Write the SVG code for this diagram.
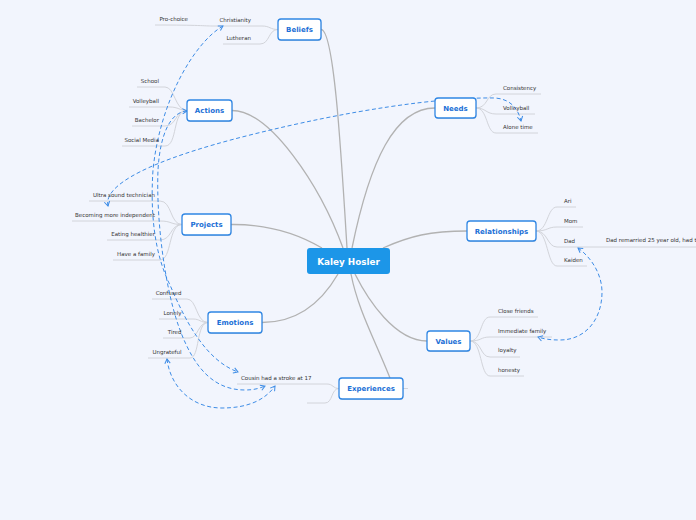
<svg xmlns="http://www.w3.org/2000/svg" width="696" height="520" viewBox="0 0 696 520">
<style>
.bg{fill:#f2f5fd}
.node rect.box{fill:#ffffff;stroke:#2f86e4;stroke-width:1.3}
.node rect.sh{fill:#000;opacity:0.13}
.node text{font-family:"DejaVu Sans",Verdana,sans-serif;font-weight:bold;font-size:7px;fill:#1b6fd6;text-anchor:middle}
#central rect{fill:#1c96e8}
#central text{fill:#ffffff;font-size:8.8px}
.leaf text{font-family:"DejaVu Sans",Verdana,sans-serif;font-size:5.5px;fill:#333333}
.leaf text.l{text-anchor:end}
.main{fill:none;stroke:#b2b2b2;stroke-width:1.3}
.sub{fill:none;stroke:#d2d4da;stroke-width:1}
.rel{fill:none;stroke:#3d8ce6;stroke-width:1;stroke-dasharray:4,2.6;marker-start:url(#ah);marker-end:url(#ah)}
</style>
<defs>
<marker id="ah" markerUnits="userSpaceOnUse" markerWidth="7" markerHeight="7" refX="5.5" refY="3.5" orient="auto-start-reverse">
<path d="M1,0.8 L5.5,3.5 L1,6.2" fill="none" stroke="#3d8ce6" stroke-width="1"/>
</marker>
</defs>
<rect class="bg" x="0" y="0" width="696" height="520"/>

<g id="connectors">
<path class="main" d="M321,29.5 C334,29.5 341,150 347,248"/>
<path class="main" d="M232,110.5 C270,110.5 320,185 343,248"/>
<path class="main" d="M435,108 C395,108 370,160 352,248"/>
<path class="main" d="M231,224.5 C270,224 300,235 322,248"/>
<path class="main" d="M467,231 C430,231 410,236 383,248"/>
<path class="main" d="M262,322.5 C295,322.5 320,305 338,274"/>
<path class="main" d="M427,341 C395,341 368,300 355,274"/>
<path class="main" d="M390,378 C375,340 358,310 351,274"/>

<path class="sub" d="M278,29.5 C270,29.5 270,26 262,26 L212,26"/>
<path class="sub" d="M212,26 C205,26 200,25 155,25"/>
<path class="sub" d="M278,29.5 C268,29.5 270,44 260,44 L223,44"/>

<path class="sub" d="M187,110.5 C175,110.5 175,87 165,87 L137,87"/>
<path class="sub" d="M187,110.5 C180,110.5 178,107 170,107 L129,107"/>
<path class="sub" d="M187,110.5 C175,110.5 177,126 165,126 L132,126"/>
<path class="sub" d="M187,110.5 C172,110.5 178,146 165,146 L122,146"/>

<path class="sub" d="M182,224.5 C170,224.5 172,201 160,201 L89,201"/>
<path class="sub" d="M182,224.5 C170,224.5 172,221 160,221 L72,221"/>
<path class="sub" d="M182,224.5 C170,224.5 172,240 160,240 L107,240"/>
<path class="sub" d="M182,224.5 C168,224.5 172,260 160,260 L113,260"/>

<path class="sub" d="M208,322.5 C196,322.5 197,299 187,299 L152,299"/>
<path class="sub" d="M208,322.5 C200,322.5 200,319 193,319 L159,319"/>
<path class="sub" d="M208,322.5 C198,322.5 198,338 190,338 L163,338"/>
<path class="sub" d="M208,322.5 C196,322.5 200,358 190,358 L148,358"/>

<path class="sub" d="M339,388.5 C333,388.5 333,384 327,384 L237,384"/>
<path class="sub" d="M339,388.5 C331,388.5 333,403 325,403 L307,403"/>
<path class="sub" d="M403,388.5 L408,388.5"/>

<path class="sub" d="M476,108 C488,108 486,94 496,94 L541,94"/>
<path class="sub" d="M476,108 C486,108 486,114 496,114 L535,114"/>
<path class="sub" d="M476,108 C488,108 486,133 496,133 L538,133"/>

<path class="sub" d="M536,231 C548,231 547,207 557,207 L576,207"/>
<path class="sub" d="M536,231 C548,231 547,227 557,227 L583,227"/>
<path class="sub" d="M536,231 C548,231 547,247 557,247 L603,247"/>
<path class="sub" d="M536,231 C548,231 547,266 557,266 L587,266"/>
<path class="sub" d="M603,247 L696,247"/>

<path class="sub" d="M470,341 C482,341 480,317 490,317 L538,317"/>
<path class="sub" d="M470,341 C482,341 480,337 490,337 L552,337"/>
<path class="sub" d="M470,341 C482,341 480,357 490,357 L520,357"/>
<path class="sub" d="M470,341 C482,341 480,376 490,376 L524,376"/>

<path class="rel" d="M108,206 C103,185 150,160 250,135 S440,97 495,98 C510,99 518,108 521,121"/>
<path class="rel" d="M223,26 C195,42 160,100 153,170 C150,215 155,255 170,285 C185,320 205,360 238,372"/>
<path class="rel" d="M187,111 C170,112 160,135 158,170 C156,220 165,290 180,330 C195,370 215,390 245,390 C255,390 260,388 265,386"/>
<path class="rel" d="M167,359 C170,385 190,408 222,408 C248,408 265,400 275,386"/>
<path class="rel" d="M578,248 C592,258 602,275 602,292 C602,320 585,340 560,340 C550,340 544,339 538,337"/>
</g>

<g id="central" class="node"><rect x="307" y="248" width="83" height="26" rx="3"/><text x="348.5" y="264.5">Kaley Hosler</text></g>

<g id="beliefs" class="node"><rect class="sh" x="278.5" y="20" width="43" height="21" rx="3"/><rect class="box" x="278" y="19" width="43" height="21" rx="3"/><text x="299.5" y="32">Beliefs</text></g>
<g id="actions" class="node"><rect class="sh" x="187.5" y="101" width="45" height="21" rx="3"/><rect class="box" x="187" y="100" width="45" height="21" rx="3"/><text x="209.5" y="113">Actions</text></g>
<g id="needs" class="node"><rect class="sh" x="435.5" y="99" width="41" height="20" rx="3"/><rect class="box" x="435" y="98" width="41" height="20" rx="3"/><text x="455.5" y="110.5">Needs</text></g>
<g id="projects" class="node"><rect class="sh" x="182.5" y="215" width="49" height="21" rx="3"/><rect class="box" x="182" y="214" width="49" height="21" rx="3"/><text x="206.5" y="227">Projects</text></g>
<g id="relationships" class="node"><rect class="sh" x="467.5" y="222" width="69" height="20" rx="3"/><rect class="box" x="467" y="221" width="69" height="20" rx="3"/><text x="501.5" y="233.5">Relationships</text></g>
<g id="values" class="node"><rect class="sh" x="427.5" y="332" width="43" height="20" rx="3"/><rect class="box" x="427" y="331" width="43" height="20" rx="3"/><text x="448.5" y="343.5">Values</text></g>
<g id="emotions" class="node"><rect class="sh" x="208.5" y="313" width="54" height="21" rx="3"/><rect class="box" x="208" y="312" width="54" height="21" rx="3"/><text x="235" y="325">Emotions</text></g>
<g id="experiences" class="node"><rect class="sh" x="339.5" y="379" width="64" height="21" rx="3"/><rect class="box" x="339" y="378" width="64" height="21" rx="3"/><text x="371" y="391">Experiences</text></g>

<g id="beliefs-leaves" class="leaf">
<text class="l" x="251" y="21.5">Christianity</text>
<text class="l" x="188" y="20.5">Pro-choice</text>
<text class="l" x="251" y="39.5">Lutheran</text>
</g>
<g id="actions-leaves" class="leaf">
<text class="l" x="159" y="82.5">School</text>
<text class="l" x="159" y="102.5">Volleyball</text>
<text class="l" x="159" y="121.5">Bachelor</text>
<text class="l" x="159" y="141.5">Social Media</text>
</g>
<g id="projects-leaves" class="leaf">
<text class="l" x="155" y="196.5">Ultra sound technician</text>
<text class="l" x="155" y="216.5">Becoming more independent</text>
<text class="l" x="155" y="235.5">Eating healthier</text>
<text class="l" x="155" y="255.5">Have a family</text>
</g>
<g id="emotions-leaves" class="leaf">
<text class="l" x="181.5" y="294.5">Confused</text>
<text class="l" x="181.5" y="314.5">Lonely</text>
<text class="l" x="181.5" y="333.5">Tired</text>
<text class="l" x="181.5" y="353.5">Ungrateful</text>
</g>
<g id="experiences-leaves" class="leaf">
<text x="241" y="380">Cousin had a stroke at 17</text>
</g>
<g id="needs-leaves" class="leaf">
<text x="503" y="89.5">Consistency</text>
<text x="503" y="109.5">Volleyball</text>
<text x="503" y="128.5">Alone time</text>
</g>
<g id="relationships-leaves" class="leaf">
<text x="564" y="202.5">Ari</text>
<text x="564" y="222.5">Mom</text>
<text x="564" y="242.5">Dad</text>
<text x="564" y="261.5">Kaiden</text>
<text x="606" y="242">Dad remarried 25 year old, had t</text>
</g>
<g id="values-leaves" class="leaf">
<text x="498" y="312.5">Close friends</text>
<text x="498" y="332.5">Immediate family</text>
<text x="498" y="352">loyalty</text>
<text x="498" y="371.5">honesty</text>
</g>
</svg>
